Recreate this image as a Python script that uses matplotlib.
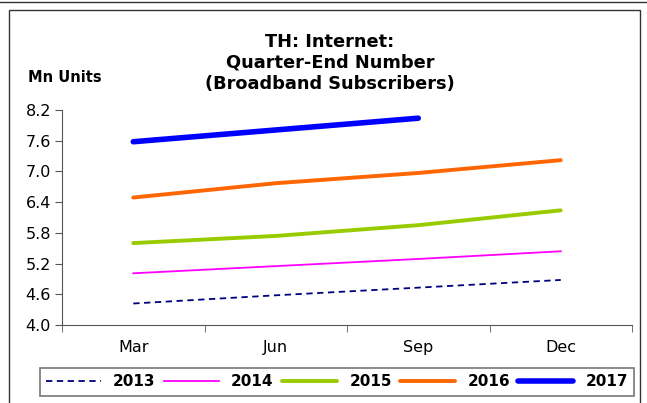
import matplotlib
matplotlib.use("Agg")
import matplotlib.pyplot as plt
from matplotlib.patches import Rectangle

plt.rcParams['font.family'] = ['DejaVu Sans']

# quarter-end broadband subscribers, Mn units
quarters = ['Mar', 'Jun', 'Sep', 'Dec']
y2013 = [4.42, 4.58, 4.73, 4.88]
y2014 = [5.01, 5.15, 5.29, 5.44]
y2015 = [5.60, 5.74, 5.95, 6.24]
y2016 = [6.49, 6.77, 6.97, 7.22]
y2017 = [7.58, 7.81, 8.04]
yticks = [4.0, 4.6, 5.2, 5.8, 6.4, 7.0, 7.6, 8.2]

fig = plt.figure(figsize=(6.47, 4.03), dpi=100)

# outer frames
fig.add_artist(Rectangle((9 / 647, -0.01), 631 / 647, 1 - 10 / 403 + 0.01,
                         transform=fig.transFigure, fill=False, ec='#333333', lw=1))
fig.add_artist(plt.Line2D([0, 1], [1 - 2 / 403, 1 - 2 / 403], transform=fig.transFigure,
                          color='#333333', lw=1))

ax = fig.add_axes([62 / 647, 1 - 325 / 403, 570 / 647, 215 / 403])

x = list(range(len(quarters)))
ax.plot(x, y2013, color='#000080', lw=1.3, ls=(0, (3.5, 2.5)), label='2013')
ax.plot(x, y2014, color='#FF00FF', lw=1.3, label='2014')
ax.plot(x, y2015, color='#99CC00', lw=2.8, solid_capstyle='round', label='2015')
ax.plot(x, y2016, color='#FF6600', lw=2.8, solid_capstyle='round', label='2016')
ax.plot(x[:len(y2017)], y2017, color='#0000FF', lw=4, solid_capstyle='round', label='2017')

ax.set_xlim(-0.5, 3.5)
ax.set_ylim(4.0, 8.2)
ax.set_yticks(yticks)
ax.set_yticklabels([f'{v:.1f}' for v in yticks], fontsize=11.5)
ax.set_xticks(x)
ax.set_xticklabels(quarters, fontsize=11.5)
ax.set_xticks([-0.5, 0.5, 1.5, 2.5, 3.5], minor=True)
ax.tick_params(axis='x', which='major', length=0, pad=11)
ax.tick_params(axis='x', which='minor', length=5, direction='out', color='#555555')
ax.tick_params(axis='y', length=5, direction='out', color='#555555', pad=3)

for side in ['top', 'right']:
    ax.spines[side].set_visible(False)
ax.spines['left'].set_color('#555555')
ax.spines['bottom'].set_color('#555555')

fig.text(330 / 647, 1 - 63 / 403, 'TH: Internet:\nQuarter-End Number\n(Broadband Subscribers)',
         ha='center', va='center', fontsize=12.8, fontweight='bold', linespacing=1.22)
fig.text(28 / 647, 1 - 78 / 403, 'Mn Units', ha='left', va='center', fontsize=10.5, fontweight='bold')

leg = fig.legend(loc='center', bbox_to_anchor=(337 / 647, 1 - 382 / 403), ncol=5,
                 frameon=True, fancybox=False, edgecolor='#555555', handlelength=3.6,
                 handletextpad=0.8, columnspacing=0.55, borderpad=0.4,
                 prop={'weight': 'bold', 'size': 11})
leg.get_frame().set_linewidth(1.2)

fig.savefig('out.png', dpi=100)
